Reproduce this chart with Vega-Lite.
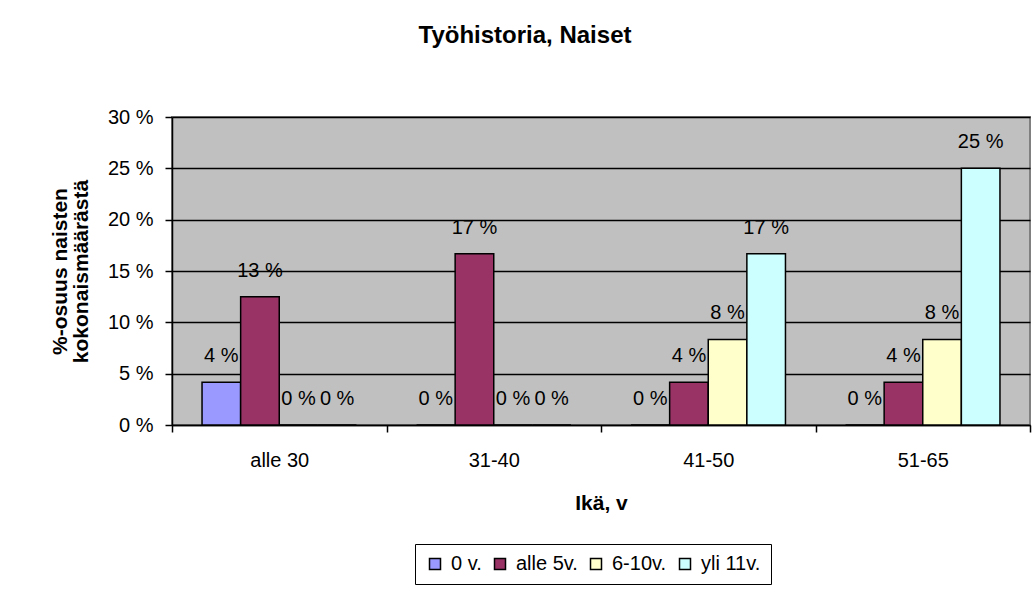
{
  "$schema": "https://vega.github.io/schema/vega-lite/v6.json",
  "autosize": "none",
  "width": 858,
  "height": 308,
  "padding": {"left": 172, "top": 117, "right": 3, "bottom": 166},
  "background": "white",
  "config": {
    "font": "Liberation Sans",
    "view": {"fill": "#C0C0C0", "stroke": "#808080", "strokeWidth": 2}
  },
  "title": {
    "text": "Työhistoria, Naiset",
    "fontSize": 24,
    "fontWeight": "bold",
    "color": "black",
    "anchor": "middle",
    "dx": -76,
    "offset": 59
  },
  "data": {
    "values": [
      {"ika": "alle 30", "ryhma": "0 v.", "osuus": 4.17, "label": "4 %"},
      {"ika": "alle 30", "ryhma": "alle 5v.", "osuus": 12.5, "label": "13 %"},
      {"ika": "alle 30", "ryhma": "6-10v.", "osuus": 0, "label": "0 %"},
      {"ika": "alle 30", "ryhma": "yli 11v.", "osuus": 0, "label": "0 %"},
      {"ika": "31-40", "ryhma": "0 v.", "osuus": 0, "label": "0 %"},
      {"ika": "31-40", "ryhma": "alle 5v.", "osuus": 16.67, "label": "17 %"},
      {"ika": "31-40", "ryhma": "6-10v.", "osuus": 0, "label": "0 %"},
      {"ika": "31-40", "ryhma": "yli 11v.", "osuus": 0, "label": "0 %"},
      {"ika": "41-50", "ryhma": "0 v.", "osuus": 0, "label": "0 %"},
      {"ika": "41-50", "ryhma": "alle 5v.", "osuus": 4.17, "label": "4 %"},
      {"ika": "41-50", "ryhma": "6-10v.", "osuus": 8.33, "label": "8 %"},
      {"ika": "41-50", "ryhma": "yli 11v.", "osuus": 16.67, "label": "17 %"},
      {"ika": "51-65", "ryhma": "0 v.", "osuus": 0, "label": "0 %"},
      {"ika": "51-65", "ryhma": "alle 5v.", "osuus": 4.17, "label": "4 %"},
      {"ika": "51-65", "ryhma": "6-10v.", "osuus": 8.33, "label": "8 %"},
      {"ika": "51-65", "ryhma": "yli 11v.", "osuus": 25, "label": "25 %"}
    ]
  },
  "encoding": {
    "x": {
      "field": "ika",
      "type": "nominal",
      "sort": ["alle 30", "31-40", "41-50", "51-65"],
      "scale": {"paddingInner": 0, "paddingOuter": 0},
      "axis": {
        "title": "Ikä, v",
        "titleFontSize": 21,
        "titleFontWeight": "bold",
        "titleColor": "black",
        "titlePadding": 22,
        "labelAngle": 0,
        "labelFontSize": 20,
        "labelColor": "black",
        "labelPadding": 18,
        "tickBand": "extent",
        "tickSize": 7,
        "tickColor": "black",
        "tickWidth": 1.5,
        "domainColor": "black",
        "domainWidth": 1.5,
        "grid": false
      }
    },
    "xOffset": {
      "field": "ryhma",
      "type": "nominal",
      "sort": ["0 v.", "alle 5v.", "6-10v.", "yli 11v."],
      "scale": {"paddingInner": 0, "paddingOuter": 0.778}
    },
    "y": {
      "field": "osuus",
      "type": "quantitative",
      "scale": {"domain": [0, 30], "nice": false},
      "axis": {
        "title": ["%-osuus naisten", "kokonaismäärästä"],
        "titleFontSize": 21,
        "titleFontWeight": "bold",
        "titleColor": "black",
        "titlePadding": 16,
        "titleLineHeight": 21,
        "values": [0, 5, 10, 15, 20, 25, 30],
        "labelExpr": "datum.value + ' %'",
        "labelFontSize": 20,
        "labelColor": "black",
        "labelPadding": 12,
        "tickSize": 7,
        "tickColor": "black",
        "tickWidth": 1.5,
        "domainColor": "black",
        "domainWidth": 1.5,
        "grid": true,
        "gridColor": "black",
        "gridOpacity": 1,
        "gridWidth": 1.5
      }
    }
  },
  "layer": [
    {
      "mark": {"type": "bar", "stroke": "black", "strokeWidth": 1.5},
      "encoding": {
        "color": {
          "field": "ryhma",
          "type": "nominal",
          "sort": ["0 v.", "alle 5v.", "6-10v.", "yli 11v."],
          "scale": {
            "domain": ["0 v.", "alle 5v.", "6-10v.", "yli 11v."],
            "range": ["#9999FF", "#993366", "#FFFFCC", "#CCFFFF"]
          },
          "legend": {
            "title": null,
            "orient": "none",
            "legendX": 243,
            "legendY": 427,
            "direction": "horizontal",
            "columns": 4,
            "symbolType": "square",
            "symbolSize": 121,
            "symbolStrokeColor": "black",
            "symbolStrokeWidth": 1.5,
            "labelFontSize": 20,
            "labelColor": "black",
            "columnPadding": 8,
            "symbolOffset": 0,
            "labelOffset": 6,
            "padding": 10,
            "strokeColor": "black",
            "fillColor": "white"
          }
        }
      }
    },
    {
      "mark": {"type": "text", "baseline": "middle", "align": "center", "dy": -26, "fontSize": 20, "color": "black"},
      "encoding": {
        "text": {"field": "label"}
      }
    }
  ]
}
